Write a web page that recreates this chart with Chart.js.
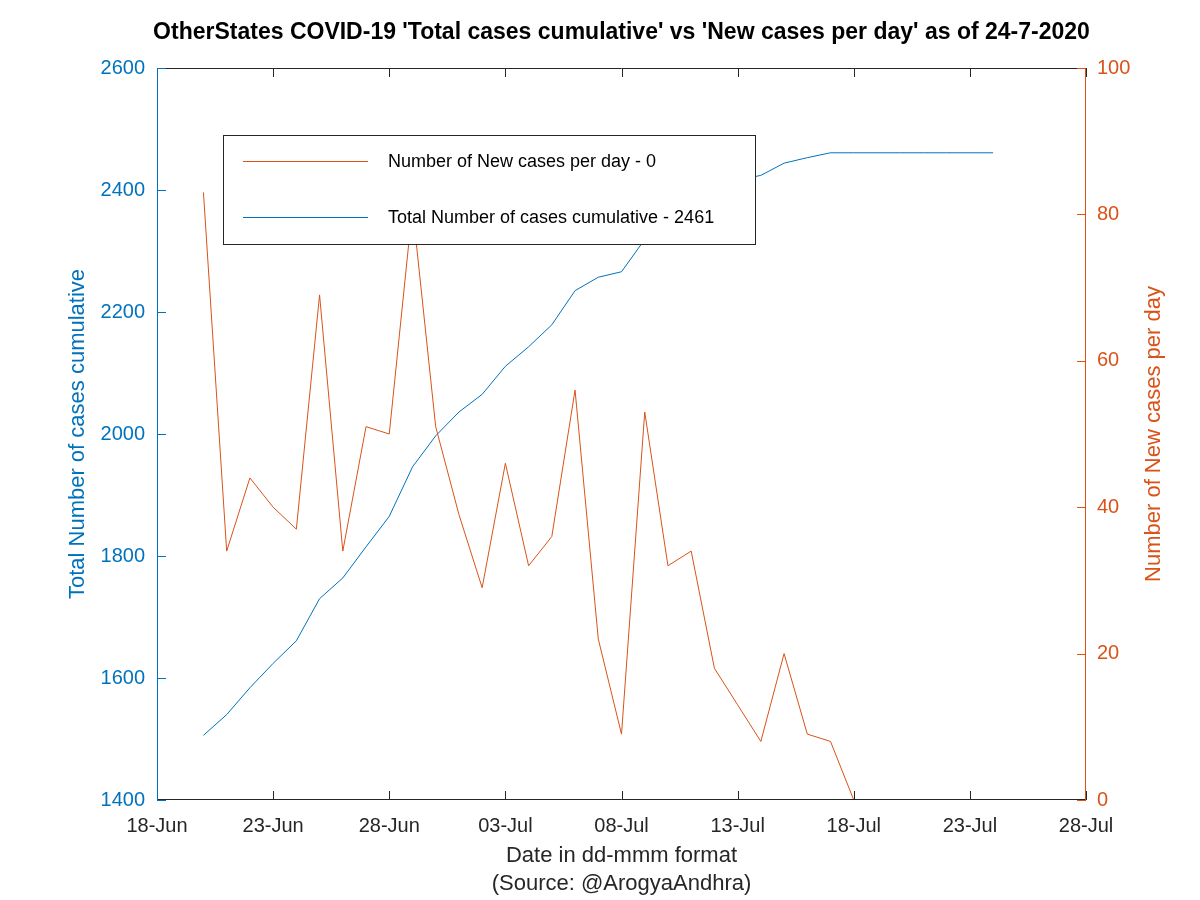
<!DOCTYPE html>
<html>
<head>
<meta charset="utf-8">
<title>OtherStates COVID-19</title>
<script src="https://cdn.jsdelivr.net/npm/chart.js@4/dist/chart.umd.min.js"></script>
<style>
  body { margin: 0; background: #fff; }
</style>
</head>
<body>
<canvas id="chart" width="1200" height="900"></canvas>
<script>
// Data (20-Jun to 24-Jul 2020)
const dates = ['20-Jun', '21-Jun', '22-Jun', '23-Jun', '24-Jun', '25-Jun', '26-Jun', '27-Jun', '28-Jun', '29-Jun',
    '30-Jun', '01-Jul', '02-Jul', '03-Jul', '04-Jul', '05-Jul', '06-Jul', '07-Jul', '08-Jul', '09-Jul',
    '10-Jul', '11-Jul', '12-Jul', '13-Jul', '14-Jul', '15-Jul', '16-Jul', '17-Jul', '18-Jul', '19-Jul',
    '20-Jul', '21-Jul', '22-Jul', '23-Jul', '24-Jul'];
const newCases = [83, 34, 44, 40, 37, 69, 34, 51, 50, 81,
    51, 39, 29, 46, 32, 36, 56, 22, 9, 53,
    32, 34, 18, 13, 8, 20, 9, 8, 0, 0,
    0, 0, 0, 0, 0];
const totalCases = [1506, 1540, 1584, 1624, 1661, 1730, 1764, 1815, 1865, 1946,
    1997, 2036, 2065, 2111, 2143, 2179, 2235, 2257, 2266, 2319,
    2351, 2385, 2403, 2416, 2424, 2444, 2453, 2461, 2461, 2461,
    2461, 2461, 2461, 2461, 2461];
const xTickLabels = ['18-Jun', '23-Jun', '28-Jun', '03-Jul', '08-Jul', '13-Jul', '18-Jul', '23-Jul', '28-Jul'];
const leftTicks = [1400, 1600, 1800, 2000, 2200, 2400, 2600];
const rightTicks = [0, 20, 40, 60, 80, 100];

const BLUE = '#0072BD';
const ORANGE = '#D95319';
const DARK = '#262626';
const FONT = "'Liberation Sans', Arial, Helvetica, sans-serif";
const TITLE = "OtherStates COVID-19 'Total cases cumulative' vs 'New cases per day' as of 24-7-2020";

// x axis is "days since 18-Jun"
const months = { Jun: 5, Jul: 6 };
const origin = Date.UTC(2020, 5, 18);
function dayNumber(label) {
    const parts = label.split('-');
    return (Date.UTC(2020, months[parts[1]], parseInt(parts[0], 10)) - origin) / 86400000;
}

const newPoints = dates.map((d, i) => ({ x: dayNumber(d), y: newCases[i] }));
const totalPoints = dates.map((d, i) => ({ x: dayNumber(d), y: totalCases[i] }));

// Title over the axes, box, inward ticks, right axis title and legend (MATLAB look)
const matlabFrame = {
    id: 'matlabFrame',
    afterDatasetsDraw(chart) {
        const ctx = chart.ctx;
        const area = chart.chartArea;
        const x = chart.scales.x, yl = chart.scales.y, yr = chart.scales.y1;
        const tick = 9;
        ctx.save();
        ctx.lineWidth = 1;

        // title, centred on the plot area
        ctx.fillStyle = '#000';
        ctx.font = 'bold 23px ' + FONT;
        ctx.textAlign = 'center';
        ctx.textBaseline = 'middle';
        ctx.fillText(TITLE, (area.left + area.right) / 2, 33);

        // top and bottom
        ctx.strokeStyle = DARK;
        ctx.beginPath();
        ctx.moveTo(area.left, area.top + 0.5);
        ctx.lineTo(area.right, area.top + 0.5);
        ctx.moveTo(area.left, area.bottom - 0.5);
        ctx.lineTo(area.right, area.bottom - 0.5);
        x.ticks.forEach(t => {
            const px = Math.round(x.getPixelForValue(t.value)) + 0.5;
            ctx.moveTo(px, area.bottom);
            ctx.lineTo(px, area.bottom - tick);
            ctx.moveTo(px, area.top);
            ctx.lineTo(px, area.top + tick);
        });
        ctx.stroke();

        // left axis
        ctx.strokeStyle = BLUE;
        ctx.beginPath();
        ctx.moveTo(area.left + 0.5, area.top);
        ctx.lineTo(area.left + 0.5, area.bottom);
        yl.ticks.forEach(t => {
            const py = Math.round(yl.getPixelForValue(t.value)) + 0.5;
            ctx.moveTo(area.left, py);
            ctx.lineTo(area.left + tick, py);
        });
        ctx.stroke();

        // right axis
        ctx.strokeStyle = ORANGE;
        ctx.beginPath();
        ctx.moveTo(area.right - 0.5, area.top);
        ctx.lineTo(area.right - 0.5, area.bottom);
        yr.ticks.forEach(t => {
            const py = Math.round(yr.getPixelForValue(t.value)) + 0.5;
            ctx.moveTo(area.right, py);
            ctx.lineTo(area.right - tick, py);
        });
        ctx.stroke();

        // right axis title, reading bottom to top
        ctx.fillStyle = ORANGE;
        ctx.font = '22px ' + FONT;
        ctx.translate(1154, (area.top + area.bottom) / 2);
        ctx.rotate(-Math.PI / 2);
        ctx.fillText('Number of New cases per day', 0, 0);
        ctx.setTransform(1, 0, 0, 1, 0, 0);

        // legend box
        const lx = 223, ly = 135, lw = 532, lh = 109;
        ctx.fillStyle = '#fff';
        ctx.fillRect(lx, ly, lw, lh);
        ctx.strokeStyle = DARK;
        ctx.strokeRect(lx + 0.5, ly + 0.5, lw, lh);
        const entries = [
            { color: ORANGE, text: chart.data.datasets[0].label, y: 161 },
            { color: BLUE, text: chart.data.datasets[1].label, y: 217 }
        ];
        ctx.font = '18px ' + FONT;
        ctx.textAlign = 'left';
        entries.forEach(e => {
            ctx.fillStyle = e.color;
            ctx.fillRect(243, e.y, 125, 1);
            ctx.fillStyle = '#000';
            ctx.fillText(e.text, 388, e.y + 1);
        });
        ctx.restore();
    }
};

new Chart(document.getElementById('chart'), {
    type: 'line',
    data: {
        datasets: [{
            label: 'Number of New cases per day - ' + newCases[newCases.length - 1],
            data: newPoints,
            yAxisID: 'y1',
            borderColor: ORANGE,
            borderWidth: 1,
            pointRadius: 0,
            tension: 0
        }, {
            label: 'Total Number of cases cumulative - ' + totalCases[totalCases.length - 1],
            data: totalPoints,
            yAxisID: 'y',
            borderColor: BLUE,
            borderWidth: 1,
            pointRadius: 0,
            tension: 0
        }]
    },
    options: {
        responsive: false,
        animation: false,
        events: [],
        layout: { padding: { top: 68 } },
        plugins: {
            legend: { display: false },
            tooltip: { enabled: false },
            title: { display: false }
        },
        scales: {
            x: {
                type: 'linear',
                min: 0,
                max: 40,
                afterBuildTicks: scale => { scale.ticks = xTickLabels.map((l, i) => ({ value: i * 5 })); },
                afterFit: scale => { scale.height = 100; },
                grid: { display: false, drawTicks: false },
                border: { display: false },
                ticks: {
                    callback: v => xTickLabels[v / 5],
                    color: DARK,
                    font: { family: FONT, size: 20 },
                    padding: 14,
                    maxRotation: 0
                },
                title: {
                    display: true,
                    text: ['Date in dd-mmm format', '(Source: @ArogyaAndhra)'],
                    color: DARK,
                    font: { family: FONT, size: 22, lineHeight: 28 / 22 },
                    padding: { top: 0, bottom: 2 }
                }
            },
            y: {
                position: 'left',
                min: 1400,
                max: 2600,
                afterBuildTicks: scale => { scale.ticks = leftTicks.map(v => ({ value: v })); },
                afterFit: scale => { scale.width = 157; },
                grid: { display: false, drawTicks: false },
                border: { display: false },
                ticks: {
                    callback: v => String(v),
                    color: BLUE,
                    font: { family: FONT, size: 20 },
                    padding: 12
                },
                title: {
                    display: true,
                    text: 'Total Number of cases cumulative',
                    color: BLUE,
                    font: { family: FONT, size: 22, lineHeight: 1.2 },
                    padding: { top: 65, bottom: 0 }
                }
            },
            y1: {
                position: 'right',
                min: 0,
                max: 100,
                afterBuildTicks: scale => { scale.ticks = rightTicks.map(v => ({ value: v })); },
                afterFit: scale => { scale.width = 114; },
                grid: { display: false, drawTicks: false },
                border: { display: false },
                ticks: {
                    callback: v => String(v),
                    color: ORANGE,
                    font: { family: FONT, size: 20 },
                    padding: 11
                }
            }
        }
    },
    plugins: [matlabFrame]
});
</script>
</body>
</html>
